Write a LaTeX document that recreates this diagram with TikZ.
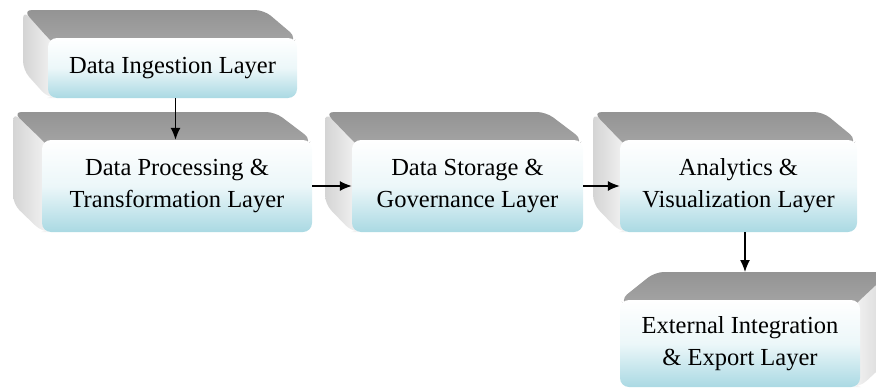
\documentclass[tikz,border=0pt]{standalone}
\usepackage{fontspec}
\setmainfont{Liberation Serif}
\usetikzlibrary{arrows.meta,calc}

\definecolor{faceblue}{RGB}{170,217,227}
\definecolor{facemid}{RGB}{236,247,249}
\definecolor{topback}{RGB}{148,148,148}
\definecolor{topfront}{RGB}{166,166,166}
\definecolor{sidelight}{RGB}{245,245,245}
\definecolor{sidedark}{RGB}{212,212,212}

\tikzset{
  layer/.style={
    rounded corners=9pt, inner sep=0pt, align=center,
    top color=white, bottom color=faceblue, middle color=facemid,
    font=\fontsize{24.5pt}{32pt}\selectfont
  },
  topface/.style={rounded corners=9pt, top color=topback, bottom color=topfront, draw=none},
  sideleft/.style={rounded corners=9pt, left color=sidedark, right color=sidelight, draw=none},
  sideright/.style={rounded corners=9pt, left color=sidelight, right color=sidedark, draw=none},
  flow/.style={line width=1.3pt, -{Latex[length=12pt,width=10pt]}}
}

% extrusion towards the upper left: x1 y1 x2 y2 (front face), dxl dxr dy
\newcommand\slabUL[7]{%
  \path[sideleft] (#1+8,#2+8) -- (#1,#2) -- (#1-#5,#2-#7) -- (#1-#5,#4-#7)
     -- (#1,#4) -- (#1+8,#4) -- cycle;
  \path[topface] (#1+8,#2+8) -- (#1,#2) -- (#1-#5,#2-#7) -- (#3-#6,#2-#7)
     -- (#3,#2) -- (#3-8,#2+8) -- cycle;
}
% extrusion towards the upper right
\newcommand\slabUR[7]{%
  \path[sideright] (#3-8,#2+8) -- (#3,#2) -- (#3+#6,#2-#7) -- (#3+#6,#4-#7)
     -- (#3,#4) -- (#3-8,#4) -- cycle;
  \path[topface] (#1+8,#2+8) -- (#1,#2) -- (#1+#5,#2-#7) -- (#3+#6,#2-#7)
     -- (#3,#2) -- (#3-8,#2+8) -- cycle;
}

\begin{document}
\begin{tikzpicture}[x=1pt,y=-1pt]
  \useasboundingbox (0,0) rectangle (876,388);
  \clip (0,0) rectangle (876,388);

  % depth of every block
  \slabUL{48}{38}{297}{98}{25}{33}{28}
  \slabUL{42}{140}{312}{232}{29}{37}{28}
  \slabUL{352}{140}{583}{232}{27}{37}{28}
  \slabUL{620}{140}{857}{232}{27}{34}{28}
  \slabUR{620}{300}{860}{387}{35}{30}{28}

  % front faces
  \node[layer, minimum width=249pt, minimum height=60pt] (ingest) at (172.5,68)
    {Data Ingestion Layer};
  \node[layer, minimum width=270pt, minimum height=92pt] (proc) at (177,186)
    {Data Processing \&\\Transformation Layer};
  \node[layer, minimum width=231pt, minimum height=92pt] (store) at (467.5,186)
    {Data Storage \&\\Governance Layer};
  \node[layer, minimum width=237pt, minimum height=92pt] (anal) at (738.5,186)
    {Analytics \&\\Visualization Layer};
  \node[layer, minimum width=240pt, minimum height=87pt] (export) at (740,343.5)
    {External Integration\\\& Export Layer};

  \coordinate (exptop) at (745,272);

  % connectors
  \draw[flow] ([xshift=3pt]ingest.south) -- ([xshift=3pt]ingest.south |- proc.north);
  \draw[flow] (proc.east) -- (store.west);
  \draw[flow] (store.east) -- (anal.west);
  \draw[flow] (anal.south -| exptop) -- (exptop);
\end{tikzpicture}
\end{document}
